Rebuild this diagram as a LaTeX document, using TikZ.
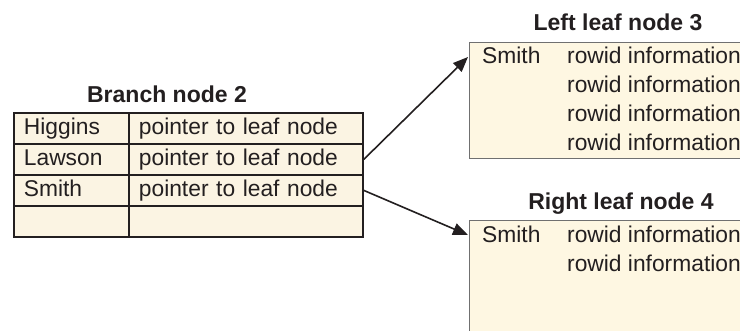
\documentclass[tikz,border=0pt]{standalone}
\usepackage{fontspec}
\setmainfont{Liberation Sans}
\usetikzlibrary{arrows.meta,calc}
\definecolor{cream}{HTML}{FBF4E3}
\definecolor{leafcream}{HTML}{FEF7E2}
\definecolor{ink}{HTML}{231F20}
\definecolor{leafline}{HTML}{707070}
\begin{document}
\begin{tikzpicture}[x=1pt,y=-1pt,
  font=\fontsize{22.8}{27}\selectfont, text=ink,
  cell/.style={draw=ink, line width=1.8pt, fill=cream, anchor=north west,
    minimum height=31pt, inner xsep=10pt, inner ysep=0pt,
    text height=22pt, text depth=9pt, align=left},
  keycell/.style={cell, text width=95pt},
  valcell/.style={cell, text width=214pt},
  leafbox/.style={draw=leafline, line width=1.3pt, fill=leafcream, anchor=north west,
    minimum width=320pt, inner sep=0pt},
  txt/.style={anchor=base west, inner sep=0pt},
  title/.style={anchor=base, inner sep=0pt, font=\fontsize{23}{27}\selectfont\bfseries},
  arr/.style={draw=ink, line width=1.6pt, -{Triangle[length=15pt,width=12pt]}}]
\clip (0,0) rectangle (740,331);
\fill[white] (0,0) rectangle (740,331);

% Branch node
\node[title] (bt) at (167,103) {Branch node 2};
\node[keycell] (k1) at (13,112) {Higgins};
\node[valcell] (v1) at (128,112) {pointer to leaf node};
\node[keycell] (k2) at (13,143) {Lawson};
\node[valcell] (v2) at (128,143) {pointer to leaf node};
\node[keycell] (k3) at (13,174) {Smith};
\node[valcell] (v3) at (128,174) {pointer to leaf node};
\node[keycell] (k4) at (13,205) {};
\node[valcell] (v4) at (128,205) {};

% Left leaf node
\node[title] (lt) at (618,31) {Left leaf node 3};
\node[leafbox, minimum height=116pt] (L3) at (469,42) {};
\node[txt] (l1k) at (482,64) {Smith};
\node[txt] (l1) at (567,64) {rowid information};
\node[txt] (l2) at (567,93) {rowid information};
\node[txt] (l3) at (567,122) {rowid information};
\node[txt] (l4) at (567,151) {rowid information};

% Right leaf node
\node[title] (rt) at (621,210) {Right leaf node 4};
\node[leafbox, minimum height=140pt] (R4) at (469,220) {};
\node[txt] (r1k) at (482,243) {Smith};
\node[txt] (r1) at (567,243) {rowid information};
\node[txt] (r2) at (567,272) {rowid information};

% Connectors
\coordinate (e3) at ($(L3.north west)+(-1,15)$);
\coordinate (e4) at ($(R4.north west)+(-1,15)$);
\draw[arr] (v2.east) -- (e3);
\draw[arr] (v3.east) -- (e4);
\end{tikzpicture}
\end{document}
